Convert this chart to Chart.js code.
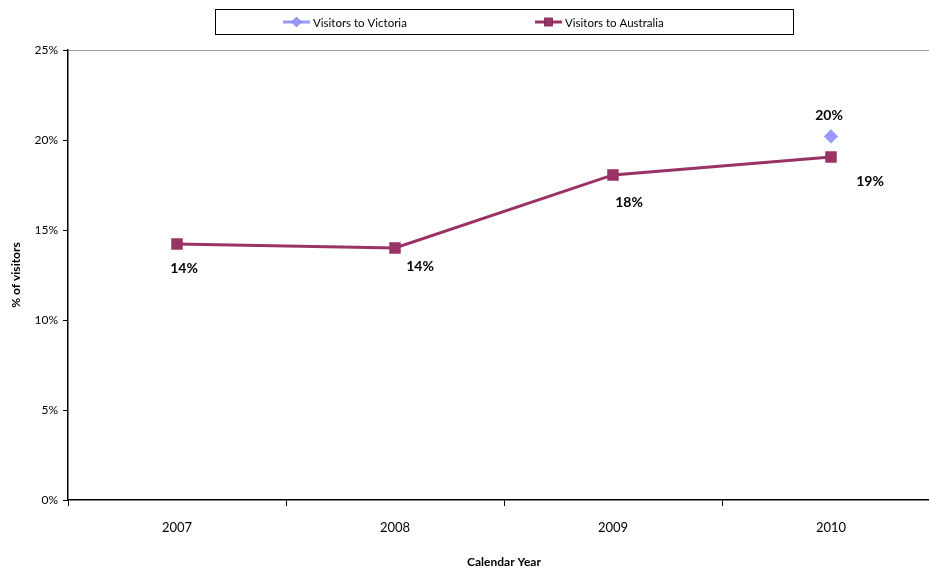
<!DOCTYPE html>
<html>
<head>
<meta charset="utf-8">
<title>Visitors</title>
<script src="https://cdn.jsdelivr.net/npm/chart.js@4/dist/chart.umd.min.js"></script>
<style>
  html, body { margin: 0; padding: 0; background: #fff; overflow: hidden; }
  #wrap { width: 950px; height: 569px; }
</style>
</head>
<body>
<div id="wrap"><canvas id="visitorsChart"></canvas></div>
<script>
// Share of visitors by calendar year
const years = ['2007', '2008', '2009', '2010'];
const victoria = [null, null, null, 20.2];
const australia = [14.22, 14.0, 18.06, 19.06];
const yTicks = [0, 5, 10, 15, 20, 25];

const FONT = 'Lato, "Open Sans", sans-serif';
const VIC_COLOR = '#9999FF';
const AUS_COLOR = '#993366';

// offsets for the value labels, per dataset and point
const labelOffsets = [
  [null, null, null, [-2, -21]],
  [[7, 24], [25, 18], [16, 28], [39, 25]]
];

// value labels next to each point
const valueLabels = {
  id: 'valueLabels',
  afterDatasetsDraw(chart) {
    const ctx = chart.ctx;
    ctx.save();
    ctx.font = 'bold 14px ' + FONT;
    ctx.fillStyle = '#000';
    ctx.textAlign = 'center';
    ctx.textBaseline = 'middle';
    chart.data.datasets.forEach((ds, i) => {
      chart.getDatasetMeta(i).data.forEach((pt, j) => {
        const v = ds.data[j];
        if (v == null) return;
        const off = labelOffsets[i][j];
        ctx.fillText(Math.round(v) + '%', pt.x + off[0], pt.y + off[1]);
      });
    });
    ctx.restore();
  }
};

// boxed legend across the top
const boxLegend = {
  id: 'boxLegend',
  afterDraw(chart) {
    const ctx = chart.ctx;
    ctx.save();
    ctx.strokeStyle = '#000';
    ctx.lineWidth = 1;
    ctx.strokeRect(215.5, 9.5, 578, 25);
    const items = [
      { x: 283, ds: chart.data.datasets[0] },
      { x: 535, ds: chart.data.datasets[1] }
    ];
    const y = 22;
    items.forEach(it => {
      ctx.strokeStyle = it.ds.borderColor;
      ctx.lineWidth = 3;
      ctx.beginPath();
      ctx.moveTo(it.x, y);
      ctx.lineTo(it.x + 27, y);
      ctx.stroke();
      Chart.helpers.drawPoint(ctx, {
        pointStyle: it.ds.pointStyle,
        radius: it.ds.pointRadius,
        rotation: 0,
        borderWidth: 0
      }, it.x + 13.5, y);
      ctx.fillStyle = it.ds.pointBackgroundColor;
      ctx.fill();
      ctx.fillStyle = '#000';
      ctx.font = '11.5px ' + FONT;
      ctx.textBaseline = 'middle';
      ctx.fillText(it.ds.label, it.x + 30, y + 1);
    });
    ctx.restore();
  }
};

new Chart(document.getElementById('visitorsChart'), {
  type: 'line',
  data: {
    labels: years,
    datasets: [
      {
        label: 'Visitors to Victoria',
        data: victoria,
        borderColor: VIC_COLOR,
        backgroundColor: VIC_COLOR,
        pointBackgroundColor: VIC_COLOR,
        pointBorderColor: VIC_COLOR,
        pointStyle: 'rectRot',
        pointRadius: 5,
        borderWidth: 3
      },
      {
        label: 'Visitors to Australia',
        data: australia,
        borderColor: AUS_COLOR,
        backgroundColor: AUS_COLOR,
        pointBackgroundColor: AUS_COLOR,
        pointBorderColor: AUS_COLOR,
        pointStyle: 'rect',
        pointRadius: 6,
        borderWidth: 3
      }
    ]
  },
  options: {
    responsive: true,
    maintainAspectRatio: false,
    animation: false,
    layout: { padding: { top: 50, right: 10, left: 0, bottom: 0 } },
    plugins: {
      legend: { display: false },
      tooltip: { enabled: false }
    },
    scales: {
      x: {
        offset: true,
        afterFit: s => { s.height = 69; },
        grid: {
          offset: true,
          drawOnChartArea: false,
          color: '#000',
          tickLength: 6
        },
        border: { color: '#000', width: 1.5 },
        ticks: { color: '#000', font: { family: FONT, size: 13 }, padding: 14 },
        title: {
          display: true,
          text: 'Calendar Year',
          color: '#000',
          font: { family: FONT, size: 12, weight: 'bold' },
          padding: { top: 0, bottom: 0 }
        }
      },
      y: {
        min: 0,
        max: 25,
        afterFit: s => { s.width = 68; },
        afterBuildTicks: s => { s.ticks = yTicks.map(v => ({ value: v })); },
        grid: {
          color: c => (c.tick && c.tick.value === 25 ? '#999' : 'rgba(0,0,0,0)'),
          tickColor: '#000',
          tickLength: 5
        },
        border: { color: '#000', width: 1.5 },
        ticks: {
          color: '#000',
          font: { family: FONT, size: 12 },
          padding: 5,
          callback: v => v + '%'
        },
        title: {
          display: true,
          text: '% of visitors',
          color: '#000',
          font: { family: FONT, size: 12, weight: 'bold' },
          padding: { top: 9, bottom: 9 }
        }
      }
    }
  },
  plugins: [valueLabels, boxLegend]
});
</script>
</body>
</html>
